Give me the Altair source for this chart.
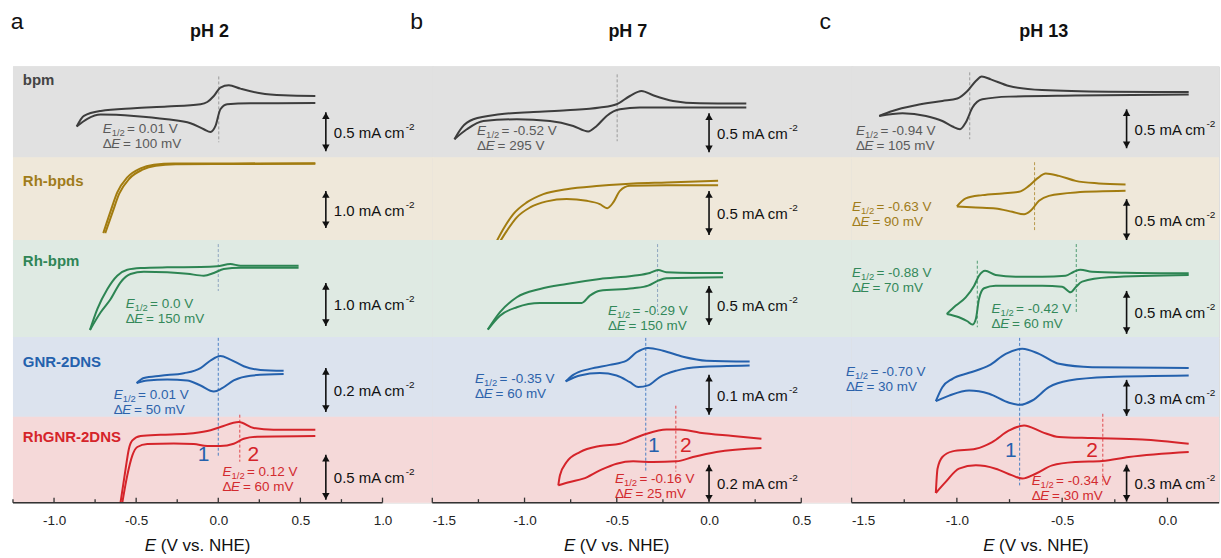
import altair as alt
import pandas as pd

# ---------------- data ----------------
PANEL_LETTERS = ["a", "b", "c"]
PH_LABELS = ["pH 2", "pH 7", "pH 13"]
ROW_NAMES = ["bpm", "Rh-bpds", "Rh-bpm", "GNR-2DNS", "RhGNR-2DNS"]

# CV curves (E in V vs. NHE, current in mA cm-2); forward (upper) and reverse (lower) branches
A_BPM_UP = [(-0.862, -0.183), (-0.818, -0.047), (-0.716, 0.017), (-0.514, 0.051), (-0.311, 0.073), (-0.108, 0.103),
            (-0.067, 0.132), (-0.027, 0.209), (0.013, 0.317), (0.064, 0.346), (0.135, 0.304), (0.257, 0.244),
            (0.398, 0.218), (0.591, 0.209)]
A_BPM_LO = [(-0.862, -0.183), (-0.797, -0.085), (-0.716, -0.03), (-0.514, -0.047), (-0.311, -0.090), (-0.169, -0.141),
            (-0.088, -0.218), (-0.047, -0.253), (-0.017, -0.176), (0.013, 0.038), (0.054, 0.103), (0.196, 0.115),
            (0.591, 0.119)]
A_BPDS_UP = [(-0.700, -0.905), (-0.655, -0.303), (-0.615, 0.195), (-0.554, 0.600), (-0.473, 0.843), (-0.392, 0.941),
             (-0.271, 0.978), (0.094, 0.978), (0.591, 0.986)]
A_BPDS_LO = [(-0.688, -0.905), (-0.643, -0.33), (-0.603, 0.16), (-0.542, 0.565), (-0.461, 0.81), (-0.38, 0.915),
             (-0.26, 0.955), (0.094, 0.962), (0.591, 0.972)]
A_RHBPM_UP = [(-0.781, -0.942), (-0.736, -0.453), (-0.675, 0.012), (-0.615, 0.321), (-0.554, 0.460), (-0.473, 0.5),
              (-0.311, 0.516), (-0.108, 0.523), (-0.007, 0.540), (0.074, 0.593), (0.135, 0.553), (0.297, 0.553),
              (0.489, 0.553)]
A_RHBPM_LO = [(-0.781, -0.942), (-0.716, -0.530), (-0.655, -0.221), (-0.595, 0.167), (-0.534, 0.360), (-0.453, 0.414),
              (-0.311, 0.4), (-0.189, 0.367), (-0.088, 0.321), (-0.027, 0.384), (0.033, 0.477), (0.135, 0.507),
              (0.489, 0.507)]
A_GNR_UP = [(-0.497, -0.024), (-0.453, -0.001), (-0.351, 0.010), (-0.210, 0.021), (-0.108, 0.044), (-0.047, 0.079),
            (0.013, 0.099), (0.074, 0.083), (0.155, 0.053), (0.257, 0.036), (0.398, 0.032)]
A_GNR_LO = [(-0.497, -0.024), (-0.432, -0.012), (-0.311, -0.008), (-0.189, -0.012), (-0.108, -0.035), (-0.027, -0.062),
            (0.024, -0.047), (0.094, -0.012), (0.196, 0.010), (0.398, 0.017)]
A_RHGNR_UP = [(-0.595, -0.47), (-0.564, -0.094), (-0.544, 0.128), (-0.523, 0.220), (-0.473, 0.269), (-0.351, 0.283),
              (-0.189, 0.294), (-0.067, 0.324), (0.013, 0.369), (0.125, 0.424), (0.216, 0.358), (0.337, 0.339),
              (0.591, 0.339)]
A_RHGNR_LO = [(-0.584, -0.47), (-0.554, -0.169), (-0.523, 0.053), (-0.493, 0.147), (-0.432, 0.180), (-0.271, 0.187),
              (-0.149, 0.180), (-0.067, 0.158), (0.013, 0.158), (0.094, 0.183), (0.155, 0.239), (0.236, 0.261),
              (0.591, 0.269)]

B_BPM_UP = [(-1.380, -0.346), (-1.340, -0.196), (-1.277, -0.090), (-1.133, -0.026), (-0.952, 0.004), (-0.772, 0.026),
            (-0.592, 0.060), (-0.501, 0.103), (-0.429, 0.209), (-0.366, 0.273), (-0.303, 0.218), (-0.195, 0.145),
            (-0.050, 0.115), (0.202, 0.112)]
B_BPM_LO = [(-1.380, -0.346), (-1.313, -0.218), (-1.223, -0.112), (-1.042, -0.090), (-0.862, -0.112), (-0.736, -0.176),
            (-0.655, -0.247), (-0.609, -0.176), (-0.555, -0.047), (-0.483, 0.038), (-0.375, 0.060), (0.202, 0.060)]
B_BPDS_UP = [(-1.156, -0.494), (-1.115, -0.335), (-1.061, -0.165), (-0.988, -0.032), (-0.898, 0.063), (-0.772, 0.119),
             (-0.592, 0.157), (-0.411, 0.184), (-0.231, 0.195), (0.049, 0.214)]
B_BPDS_LO = [(-1.138, -0.494), (-1.096, -0.355), (-1.042, -0.202), (-0.970, -0.089), (-0.880, -0.020), (-0.772, 0.006),
             (-0.663, -0.014), (-0.592, -0.051), (-0.552, -0.097), (-0.519, -0.032), (-0.483, 0.100), (-0.429, 0.157),
             (-0.231, 0.165), (0.049, 0.165)]
B_RHBPM_UP = [(-1.199, -0.515), (-1.133, -0.292), (-1.042, -0.1), (-0.916, 0.006), (-0.772, 0.071), (-0.592, 0.135),
              (-0.411, 0.177), (-0.321, 0.212), (-0.276, 0.25), (-0.231, 0.221), (-0.087, 0.212), (0.076, 0.212)]
B_RHBPM_LO = [(-1.199, -0.515), (-1.133, -0.336), (-1.042, -0.228), (-0.916, -0.173), (-0.772, -0.173), (-0.690, -0.173),
              (-0.646, -0.079), (-0.592, -0.015), (-0.411, 0.015), (-0.330, 0.049), (-0.276, 0.113), (-0.231, 0.144),
              (0.076, 0.156)]
B_GNR_UP = [(-0.777, -0.009), (-0.736, 0.0075), (-0.646, 0.0225), (-0.538, 0.0325), (-0.447, 0.043), (-0.393, 0.064),
            (-0.330, 0.075), (-0.249, 0.068), (-0.141, 0.053), (-0.014, 0.043), (0.220, 0.041)]
B_GNR_LO = [(-0.777, -0.009), (-0.700, 0.006), (-0.592, 0.012), (-0.501, 0.006), (-0.429, -0.011), (-0.384, -0.023),
            (-0.330, -0.019), (-0.267, 0.002), (-0.176, 0.018), (-0.050, 0.027), (0.220, 0.031)]
B_RHGNR_UP = [(-0.817, -0.136), (-0.808, -0.082), (-0.772, -0.010), (-0.700, 0.044), (-0.592, 0.077), (-0.483, 0.089),
              (-0.411, 0.116), (-0.339, 0.143), (-0.231, 0.166), (-0.159, 0.166), (-0.050, 0.149), (0.130, 0.131),
              (0.284, 0.116)]
B_RHGNR_LO = [(-0.817, -0.136), (-0.754, -0.118), (-0.682, -0.1), (-0.592, -0.055), (-0.501, -0.019), (-0.411, -0.006),
              (-0.303, -0.010), (-0.176, -0.006), (-0.087, 0.017), (0.040, 0.044), (0.284, 0.066)]

C_BPM_UP = [(-1.369, -0.047), (-1.306, 0.017), (-1.195, 0.09), (-1.069, 0.145), (-0.998, 0.176), (-0.950, 0.273),
            (-0.910, 0.401), (-0.882, 0.458), (-0.839, 0.423), (-0.752, 0.337), (-0.595, 0.286), (-0.278, 0.265),
            (0.101, 0.260)]
C_BPM_LO = [(-1.369, -0.047), (-1.258, -0.013), (-1.147, -0.047), (-1.069, -0.112), (-1.021, -0.183), (-0.985, -0.218),
            (-0.958, -0.132), (-0.926, 0.060), (-0.879, 0.167), (-0.752, 0.201), (-0.436, 0.214), (0.101, 0.227)]
C_BPDS_UP = [(-1.0, -0.083), (-0.958, 0.015), (-0.879, 0.055), (-0.784, 0.076), (-0.705, 0.095), (-0.658, 0.168),
             (-0.618, 0.259), (-0.578, 0.320), (-0.515, 0.290), (-0.436, 0.229), (-0.326, 0.198), (-0.199, 0.185)]
C_BPDS_LO = [(-1.0, -0.083), (-0.910, -0.095), (-0.816, -0.107), (-0.737, -0.149), (-0.681, -0.180), (-0.650, -0.137),
             (-0.610, -0.015), (-0.563, 0.046), (-0.436, 0.088), (-0.199, 0.107)]
C_RHBPM_UP = [(-1.048, -0.285), (-1.005, -0.188), (-0.958, -0.091), (-0.918, 0.044), (-0.895, 0.160), (-0.866, 0.219),
              (-0.816, 0.169), (-0.721, 0.149), (-0.595, 0.149), (-0.484, 0.160), (-0.444, 0.207), (-0.413, 0.230),
              (-0.358, 0.207), (-0.199, 0.195), (0.101, 0.188)]
C_RHBPM_LO = [(-1.048, -0.285), (-0.990, -0.323), (-0.950, -0.370), (-0.926, -0.409), (-0.910, -0.343), (-0.895, -0.110),
              (-0.871, 0.014), (-0.816, 0.044), (-0.595, 0.044), (-0.500, 0.033), (-0.460, -0.033), (-0.436, 0.026),
              (-0.405, 0.091), (-0.278, 0.142), (0.101, 0.169)]
C_GNR_UP = [(-1.100, -0.194), (-1.069, -0.078), (-1.021, -0.008), (-0.942, 0.042), (-0.847, 0.103), (-0.768, 0.2),
            (-0.689, 0.242), (-0.610, 0.2), (-0.515, 0.117), (-0.358, 0.089), (0.101, 0.083)]
C_GNR_LO = [(-1.100, -0.194), (-1.037, -0.148), (-0.942, -0.106), (-0.847, -0.133), (-0.752, -0.208), (-0.700, -0.225),
            (-0.642, -0.189), (-0.563, -0.078), (-0.468, -0.023), (-0.278, 0.006), (0.101, 0.019)]
C_RHGNR_UP = [(-1.100, -0.267), (-1.092, -0.069), (-1.069, 0.026), (-1.021, 0.072), (-0.910, 0.093), (-0.832, 0.148),
              (-0.752, 0.242), (-0.681, 0.283), (-0.595, 0.229), (-0.515, 0.189), (-0.358, 0.180), (-0.120, 0.169),
              (0.101, 0.134)]
C_RHGNR_LO = [(-1.100, -0.267), (-1.053, -0.177), (-0.990, -0.069), (-0.910, -0.042), (-0.816, -0.069), (-0.737, -0.124),
              (-0.689, -0.150), (-0.626, -0.110), (-0.547, -0.042), (-0.436, -0.015), (-0.310, -0.007), (-0.184, 0.026),
              (0.101, 0.067)]

CURVES = [
    [(A_BPM_UP, A_BPM_LO), (A_BPDS_UP, A_BPDS_LO), (A_RHBPM_UP, A_RHBPM_LO), (A_GNR_UP, A_GNR_LO), (A_RHGNR_UP, A_RHGNR_LO)],
    [(B_BPM_UP, B_BPM_LO), (B_BPDS_UP, B_BPDS_LO), (B_RHBPM_UP, B_RHBPM_LO), (B_GNR_UP, B_GNR_LO), (B_RHGNR_UP, B_RHGNR_LO)],
    [(C_BPM_UP, C_BPM_LO), (C_BPDS_UP, C_BPDS_LO), (C_RHBPM_UP, C_RHBPM_LO), (C_GNR_UP, C_GNR_LO), (C_RHGNR_UP, C_RHGNR_LO)],
]

# scale bars (E position, top current, length in mA cm-2)
SCALE_BAR_E = [0.655, 0.0, -0.194]
SCALE_BAR_TOP = [[0.0, 0.23, 0.151, 0.045, 0.061],
                 [-0.013, 0.097, 0.045, 0.0075, -0.024],
                 [0.038, 0.006, -0.017, -0.017, -0.037]]
SCALE_BAR_AMP = [[0.5, 1.0, 1.0, 0.2, 0.5],
                 [0.5, 0.5, 0.5, 0.1, 0.2],
                 [0.5, 0.5, 0.5, 0.3, 0.3]]

# E1/2 / dE annotations
ANN_PANEL = [0, 0, 0, 0, 1, 1, 1, 1, 2, 2, 2, 2, 2, 2]
ANN_ROW = [0, 2, 3, 4, 0, 2, 3, 4, 0, 1, 2, 2, 3, 4]
ANN_E = [-0.704, -0.564, -0.637, 0.026, -1.257, -0.547, -1.268, -0.510, -1.479, -1.498, -1.498, -0.835, -1.527, -0.645]
ANN_I = [-0.270, -0.430, -0.0955, -0.178, -0.290, -0.323, -0.0125, -0.122, -0.290, -0.137, 0.142, -0.277, 0.019, -0.205]
ANN_HALF = ["0.01 V", "0.0 V", "0.01 V", "0.12 V", "-0.52 V", "-0.29 V", "-0.35 V", "-0.16 V",
            "-0.94 V", "-0.63 V", "-0.88 V", "-0.42 V", "-0.70 V", "-0.34 V"]
ANN_DELTA = ["100 mV", "150 mV", "50 mV", "60 mV", "295 V", "150 mV", "60 mV", "25 mV",
             "105 mV", "90 mV", "70 mV", "60 mV", "30 mV", "30 mV"]

# dashed E1/2 guide lines: panel, row, E, top current, bottom current, colour key
GUIDE_PANEL = [0, 0, 0, 0, 0, 1, 1, 1, 1, 1, 2, 2, 2, 2, 2, 2, 2]
GUIDE_ROW = [0, 2, 3, 4, 4, 0, 2, 3, 4, 4, 0, 1, 2, 2, 3, 4, 4]
GUIDE_E = [0.003, 0.0, 0.0, 0.0, 0.131, -0.498, -0.279, -0.343, -0.343, -0.180, -0.939, -0.631, -0.903, -0.433, -0.702, -0.702, -0.307]
GUIDE_TOP = [0.46, 1.058, 0.182, 0.472, 0.506, 0.487, 0.583, 0.1, 0.23, 0.295, 0.513, 0.457, 0.335, 0.529, 0.333, 0.3455, 0.378]
GUIDE_BOT = [-0.385, -0.035, -0.182, 0.039, -0.017, -0.372, -0.29, -0.1, -0.062, -0.062, -0.346, -0.372, -0.44, -0.265, -0.333, -0.205, -0.205]
GUIDE_KIND = ["gray", "slate", "blue", "blue", "red", "gray", "slate", "blue", "blue", "red",
              "gray", "gold", "green", "green", "blue", "blue", "red"]

# peak labels "1" / "2" in the RhGNR-2DNS row
PEAK_PANEL = [0, 0, 1, 1, 2, 2]
PEAK_E = [-0.090, 0.214, -0.299, -0.126, -0.744, -0.358]
PEAK_I = [0.062, 0.062, 0.078, 0.078, 0.072, 0.072]
PEAK_TEXT = ["1", "2", "1", "2", "1", "2"]

# x axes
AXIS_RANGE = [[-1.25, 1.0], [-1.5, 0.5], [-1.5, 0.245]]
MAJOR_TICKS = [[-1.0, -0.5, 0.0, 0.5, 1.0], [-1.5, -1.0, -0.5, 0.0, 0.5], [-1.5, -1.0, -0.5, 0.0]]
MINOR_TICKS = [[-1.25, -0.75, -0.25, 0.25, 0.75], [-1.25, -0.75, -0.25, 0.25], [-1.25, -0.75, -0.25]]

# ---------------- layout / style ----------------
ROW_H = [92, 83, 97, 80, 85]
COL_W = [420, 420, 368]
X_DOMAIN = [[-1.25, -1.25 + 420 / 164.5], [-1.5, -1.5 + 420 / 184.8], [-1.5, -1.5 + 368 / 210.9]]
Y_HALF = [[0.59, 1.12, 1.128, 0.1818, 0.472],
          [0.59, 0.4716, 0.622, 0.100, 0.2297],
          [0.59, 0.506, 0.564, 0.333, 0.3455]]
BAND_FILL = ["#e1e1e1", "#efe8da", "#dfeae3", "#dce3ee", "#f5d9d9"]
LINE_COLOR = ["#3d3d3d", "#a27c10", "#2d8553", "#2461ad", "#d5242a"]
TEXT_COLOR = ["#5a5a5a", "#9f7c1a", "#33885a", "#2c62aa", "#d22a2e"]
LABEL_COLOR = ["#444444", "#9f7c1a", "#2f8556", "#2461ad", "#d5242a"]
KIND_COLOR = {"gray": "#9a9a9a", "slate": "#8ea6c0", "blue": "#4a7fc4", "red": "#e0484c",
              "gold": "#b8994a", "green": "#4f9c72"}
FONT = "Liberation Sans"
ANN_FS = 13.5
TITLE_E = [-0.053, -0.44, -0.587]
LETTER_E = [-1.263, -1.62, -1.653]
AXIS_TITLE_E = [-0.125, -0.5, -0.624]
ROW_LABEL_E = -1.19
ROW_LABEL_Y = [19, 27.7, 25.3, 28.7, 24.3]


def cell(p, r):
    W, H = COL_W[p], ROW_H[r]
    xs = alt.Scale(domain=X_DOMAIN[p], nice=False, zero=False)
    yh = Y_HALF[p][r]
    ys = alt.Scale(domain=[-yh, yh], nice=False, zero=False)
    if r == 4:
        xaxis = alt.Axis(values=MAJOR_TICKS[p], format=".1f",
                         labelExpr="replace(datum.label, '\u2212', '-')",
                         ticks=False, domain=False, grid=False, labelPadding=11,
                         labelFontSize=13.5, labelColor="#222222", labelFont=FONT, title=None)
    else:
        xaxis = None
    X = alt.X("E:Q", scale=xs, axis=xaxis, title=None)
    Y = alt.Y("i:Q", scale=ys, axis=None)
    layers = []

    # band background (slightly overlapping the neighbour cells to hide seams)
    xpx = (X_DOMAIN[p][1] - X_DOMAIN[p][0]) / W
    ypx = 2 * yh / H
    bg = pd.DataFrame([dict(E=X_DOMAIN[p][0], E2=X_DOMAIN[p][1] + (1.5 * xpx if p < 2 else 0),
                            i=-yh, i2=yh + (1.0 * ypx if r > 0 else 0))])
    layers.append(alt.Chart(bg).mark_rect(color=BAND_FILL[r], opacity=1).encode(
        x=X, x2="E2:Q", y=Y, y2="i2:Q"))

    # dashed guides
    g = [dict(E=GUIDE_E[k], i=GUIDE_TOP[k], i2=GUIDE_BOT[k], c=KIND_COLOR[GUIDE_KIND[k]])
         for k in range(len(GUIDE_E)) if GUIDE_PANEL[k] == p and GUIDE_ROW[k] == r]
    if g:
        layers.append(alt.Chart(pd.DataFrame(g)).mark_rule(strokeDash=[3, 2], strokeWidth=1).encode(
            x=X, y=Y, y2="i2:Q", color=alt.Color("c:N", scale=None)))

    # CV curve
    up, lo = CURVES[p][r]
    rows = [dict(E=e, i=i, branch="fwd", k=n) for n, (e, i) in enumerate(up)]
    rows += [dict(E=e, i=i, branch="rev", k=n) for n, (e, i) in enumerate(lo)]
    layers.append(alt.Chart(pd.DataFrame(rows)).mark_line(
        interpolate="monotone", strokeWidth=2, color=LINE_COLOR[r]).encode(
        x=X, y=Y, detail="branch:N", order="k:Q"))

    # scale bar
    top = SCALE_BAR_TOP[p][r]
    amp = SCALE_BAR_AMP[p][r]
    sb = pd.DataFrame([dict(E=SCALE_BAR_E[p], i=top, i2=top - amp, mid=top - amp / 2,
                            lab=f"{amp:.1f} mA cm")])
    Y2 = alt.Y("i2:Q", scale=ys, axis=None)
    YM = alt.Y("mid:Q", scale=ys, axis=None)
    layers.append(alt.Chart(sb).mark_rule(strokeWidth=1.6, color="#111111").encode(x=X, y=Y, y2="i2:Q"))
    layers.append(alt.Chart(sb).mark_point(shape="triangle-up", filled=True, size=55, opacity=1,
                                           color="#111111", yOffset=3.5).encode(x=X, y=Y))
    layers.append(alt.Chart(sb).mark_point(shape="triangle-down", filled=True, size=55, opacity=1,
                                           color="#111111", yOffset=-3.5).encode(x=X, y=Y2))
    layers.append(alt.Chart(sb).mark_text(align="left", baseline="middle", dx=8, dy=1, fontSize=15,
                                          font=FONT, color="#111111").encode(x=X, y=YM, text="lab:N"))
    layers.append(alt.Chart(sb).mark_text(align="left", baseline="middle", dx=80, dy=-5, fontSize=10,
                                          font=FONT, color="#111111", text="-2").encode(x=X, y=YM))

    # annotations
    a = [dict(E=ANN_E[k], i=ANN_I[k], half="= " + ANN_HALF[k], dl="= " + ANN_DELTA[k])
         for k in range(len(ANN_E)) if ANN_PANEL[k] == p and ANN_ROW[k] == r]
    if a:
        adf = pd.DataFrame(a)
        tc = TEXT_COLOR[r]
        base = dict(align="left", baseline="alphabetic", font=FONT, color=tc)
        layers.append(alt.Chart(adf).mark_text(text="E", fontStyle="italic", fontSize=ANN_FS, **base).encode(x=X, y=Y))
        layers.append(alt.Chart(adf).mark_text(text="1/2", fontSize=9.5, dx=9, dy=3, **base).encode(x=X, y=Y))
        layers.append(alt.Chart(adf).mark_text(fontSize=ANN_FS, dx=24.5, **base).encode(x=X, y=Y, text="half:N"))
        layers.append(alt.Chart(adf).mark_text(text="\u0394", fontSize=ANN_FS, dy=15, **base).encode(x=X, y=Y))
        layers.append(alt.Chart(adf).mark_text(text="E", fontStyle="italic", fontSize=ANN_FS, dx=8.6, dy=15, **base).encode(x=X, y=Y))
        layers.append(alt.Chart(adf).mark_text(fontSize=ANN_FS, dx=20.5, dy=15, **base).encode(x=X, y=Y, text="dl:N"))

    # row label
    if p == 0:
        rl = pd.DataFrame([dict(E=ROW_LABEL_E, name=ROW_NAMES[r])])
        layers.append(alt.Chart(rl).mark_text(align="left", baseline="alphabetic", fontSize=15, fontWeight="bold",
                                              font=FONT, color=LABEL_COLOR[r]).encode(
            x=X, y=alt.value(ROW_LABEL_Y[r]), text="name:N"))

    # peak labels
    if r == 4:
        pk = pd.DataFrame([dict(E=PEAK_E[k], i=PEAK_I[k], t=PEAK_TEXT[k],
                                c=LINE_COLOR[3] if PEAK_TEXT[k] == "1" else LINE_COLOR[4])
                           for k in range(len(PEAK_E)) if PEAK_PANEL[k] == p])
        layers.append(alt.Chart(pk).mark_text(align="center", baseline="middle", fontSize=21, font=FONT).encode(
            x=X, y=Y, text="t:N", color=alt.Color("c:N", scale=None)))

    # panel letter + pH title
    if r == 0:
        tl = pd.DataFrame([dict(E=LETTER_E[p], t=PANEL_LETTERS[p])])
        layers.append(alt.Chart(tl).mark_text(align="left", baseline="alphabetic", fontSize=23, font=FONT,
                                              color="#111111").encode(x=X, y=alt.value(-37), text="t:N"))
        th = pd.DataFrame([dict(E=TITLE_E[p], t=PH_LABELS[p])])
        layers.append(alt.Chart(th).mark_text(align="center", baseline="alphabetic", fontSize=18, fontWeight="bold",
                                              font=FONT, color="#111111").encode(x=X, y=alt.value(-29), text="t:N"))

    # x axis line, inward ticks, title
    if r == 4:
        ax = pd.DataFrame([dict(E=AXIS_RANGE[p][0], E2=AXIS_RANGE[p][1])])
        layers.append(alt.Chart(ax).mark_rule(strokeWidth=1.5, color="#333333").encode(
            x=X, x2="E2:Q", y=alt.value(H)))
        mj = pd.DataFrame(dict(E=MAJOR_TICKS[p]))
        layers.append(alt.Chart(mj).mark_rule(strokeWidth=1.3, color="#333333").encode(
            x=X, y=alt.value(H), y2=alt.value(H - 5)))
        mn = pd.DataFrame(dict(E=MINOR_TICKS[p]))
        layers.append(alt.Chart(mn).mark_rule(strokeWidth=1.3, color="#333333").encode(
            x=X, y=alt.value(H), y2=alt.value(H - 3.5)))
        at = pd.DataFrame([dict(E=AXIS_TITLE_E[p])])
        layers.append(alt.Chart(at).mark_text(text="E", fontStyle="italic", align="left", baseline="alphabetic",
                                              fontSize=17, font=FONT, color="#111111", dx=-53).encode(
            x=X, y=alt.value(133)))
        layers.append(alt.Chart(at).mark_text(text="(V vs. NHE)", align="left", baseline="alphabetic",
                                              fontSize=17, font=FONT, color="#111111", dx=-37).encode(
            x=X, y=alt.value(133)))

    return alt.layer(*layers).properties(width=W, height=H)


cells = [cell(p, r) for r in range(5) for p in range(3)]
chart = alt.concat(*cells, columns=3, spacing=0, bounds="flush", align="each").properties(
    padding={"left": 10, "top": 10, "right": 0, "bottom": 0}
).configure_view(strokeWidth=0).configure(font=FONT)

chart.save("out.html", embed_options={"renderer": "svg", "actions": False})
